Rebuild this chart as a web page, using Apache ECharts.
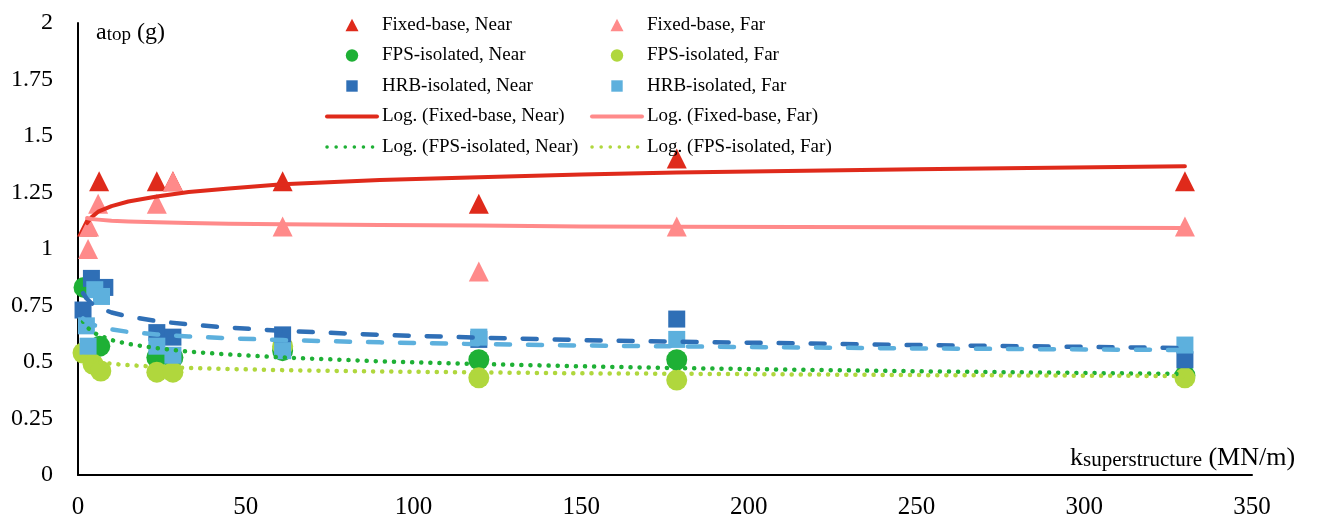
<!DOCTYPE html>
<html><head><meta charset="utf-8">
<script src="https://cdn.jsdelivr.net/npm/echarts@6/dist/echarts.min.js"></script>
<style>html,body{margin:0;padding:0;background:#fff}#c{width:1319px;height:524px}</style>
</head><body><div id="c"></div>
<script>
// ---- data ----
const fixedNearX = [2.7, 6.3, 23.5, 28.3, 61, 119.5, 178.5, 330];
const fixedNearY = [1.1, 1.3, 1.3, 1.3, 1.3, 1.2, 1.4, 1.3];
const fixedFarX  = [3.0, 3.3, 6.0, 23.5, 28.3, 61, 119.5, 178.5, 330];
const fixedFarY  = [1.0, 1.1, 1.2, 1.2, 1.3, 1.1, 0.9, 1.1, 1.1];
const fpsNearX   = [1.8, 6.5, 23.5, 28.3, 61, 119.5, 178.5, 330];
const fpsNearY   = [0.83, 0.57, 0.52, 0.52, 0.55, 0.51, 0.51, 0.44];
const fpsFarX    = [1.5, 4.5, 6.8, 23.5, 28.3, 61, 119.5, 178.5, 330];
const fpsFarY    = [0.54, 0.49, 0.46, 0.455, 0.455, 0.57, 0.43, 0.42, 0.43];
const hrbNearX   = [1.5, 4.0, 8.0, 23.5, 28.3, 61, 119.5, 178.5, 330];
const hrbNearY   = [0.73, 0.87, 0.83, 0.63, 0.61, 0.62, 0.6, 0.69, 0.51];
const hrbFarX    = [2.5, 3.0, 5.0, 7.0, 23.5, 28.3, 61, 119.5, 178.5, 330];
const hrbFarY    = [0.66, 0.57, 0.82, 0.79, 0.57, 0.53, 0.55, 0.61, 0.6, 0.575];

// trend lines, points
const trendFixedX     = [2.7, 4, 6, 10, 15, 23.5, 33, 45, 61, 90, 119.5, 150, 178.5, 250, 330];
const trendFixedNearY = [1.115, 1.14, 1.165, 1.19, 1.21, 1.232, 1.252, 1.268, 1.287, 1.305, 1.318, 1.33, 1.338, 1.353, 1.366];
const trendFixedFarY  = [1.137, 1.133, 1.13, 1.125, 1.122, 1.118, 1.115, 1.112, 1.11, 1.106, 1.104, 1.1, 1.099, 1.096, 1.093];
const trendIsoX       = [1.5, 2.5, 4, 6, 10, 15, 23.5, 33, 45, 61, 90, 119.5, 150, 178.5, 250, 330];
const trendFpsNearY   = [0.679, 0.657, 0.637, 0.619, 0.597, 0.58, 0.561, 0.546, 0.533, 0.52, 0.503, 0.491, 0.481, 0.473, 0.459, 0.447];
const trendFpsFarY    = [0.522, 0.514, 0.506, 0.5, 0.492, 0.486, 0.479, 0.474, 0.469, 0.464, 0.458, 0.454, 0.45, 0.448, 0.442, 0.438];
const trendHrbNearY   = [0.805, 0.782, 0.76, 0.742, 0.719, 0.701, 0.681, 0.666, 0.652, 0.638, 0.62, 0.608, 0.597, 0.59, 0.575, 0.562];
const trendHrbFarY    = [0.693, 0.68, 0.668, 0.657, 0.644, 0.633, 0.622, 0.613, 0.605, 0.597, 0.587, 0.579, 0.573, 0.569, 0.56, 0.553];

const xTicks = { min: 0, max: 350, interval: 50 };
const yTicks = { min: 0, max: 2, interval: 0.25 };

const C = {
  fixedNear: '#DF2A1B', fixedFar: '#FF8A8A',
  fpsNear: '#1EB035', fpsFar: '#B0D73D',
  hrbNear: '#2F6FB6', hrbFar: '#5DB0DD'
};
const FONT = 'Liberation Serif';
const pairs = (xs, ys) => xs.map((x, i) => [x, ys[i]]);

// legend icons laid out inside a 50x13 box (corner moves keep the box size)
const ICON_TRI  = 'path://M0,0M50,13M18.5,12.8L25,0.2L31.5,12.8Z';
const ICON_CIR  = 'path://M0,0M50,13M18.8,6.5A6.2,6.2 0 1 1 31.2,6.5A6.2,6.2 0 1 1 18.8,6.5Z';
const ICON_RECT = 'path://M0,0M50,13M19.3,0.8L30.7,0.8L30.7,12.2L19.3,12.2Z';

function scatter(name, xs, ys, symbol, size, color) {
  return { name, type: 'scatter', data: pairs(xs, ys), symbol, symbolSize: size,
    itemStyle: { color, opacity: 1 }, z: 2, silent: true };
}
function trend(name, xs, ys, color, type, width) {
  return { name, type: 'line', data: pairs(xs, ys), symbol: 'none', smooth: false,
    lineStyle: { color, width, type, cap: 'round', join: 'round' }, itemStyle: { color }, z: 3, silent: true };
}
const lineItem = (name, width) => ({ name, itemStyle: { opacity: 0 }, lineStyle: { width } });
const markItem = (name, icon) => ({ name, icon });

const chart = echarts.init(document.getElementById('c'), null, { renderer: 'canvas' });
const legendCommon = {
  orient: 'vertical', itemWidth: 50, itemHeight: 13, itemGap: 11.5, selectedMode: false,
  textStyle: { fontFamily: FONT, fontSize: 19, lineHeight: 19, color: '#000' }, top: 10.5
};
chart.setOption({
  animation: false,
  backgroundColor: '#fff',
  grid: { left: 78, right: 67, top: 23, bottom: 49 },
  legend: [
    Object.assign({ left: 320, data: [markItem('Fixed-base, Near', ICON_TRI), markItem('FPS-isolated, Near', ICON_CIR),
      markItem('HRB-isolated, Near', ICON_RECT),
      lineItem('Log. (Fixed-base, Near)', 4), lineItem('Log. (FPS-isolated, Near)', 3.5)] }, legendCommon),
    Object.assign({ left: 585, data: [markItem('Fixed-base, Far', ICON_TRI), markItem('FPS-isolated, Far', ICON_CIR),
      markItem('HRB-isolated, Far', ICON_RECT),
      lineItem('Log. (Fixed-base, Far)', 4), lineItem('Log. (FPS-isolated, Far)', 3.5)] }, legendCommon)
  ],
  xAxis: {
    type: 'value', min: xTicks.min, max: xTicks.max, interval: xTicks.interval,
    name: 'k{s|superstructure} (MN/m)', nameLocation: 'end', nameGap: -182,
    nameTextStyle: { align: 'left', verticalAlign: 'bottom', padding: [0, 0, 4, 0], fontFamily: FONT, fontSize: 26, color: '#000',
      rich: { s: { fontFamily: FONT, fontSize: 21, color: '#000', verticalAlign: 'bottom', lineHeight: 12 } } },
    axisLine: { lineStyle: { color: '#000', width: 2 } },
    axisTick: { show: false }, splitLine: { show: false },
    axisLabel: { fontFamily: FONT, fontSize: 25, color: '#000', margin: 20 }
  },
  yAxis: {
    type: 'value', min: yTicks.min, max: yTicks.max, interval: yTicks.interval,
    name: 'a{s|top} (g)', nameLocation: 'end', nameGap: -10,
    nameTextStyle: { align: 'left', verticalAlign: 'middle', padding: [0, 0, 0, 18], fontFamily: FONT, fontSize: 24, color: '#000',
      rich: { s: { fontFamily: FONT, fontSize: 19, color: '#000', verticalAlign: 'bottom', lineHeight: 10 } } },
    axisLine: { lineStyle: { color: '#000', width: 2 } },
    axisTick: { show: false }, splitLine: { show: false },
    axisLabel: { fontFamily: FONT, fontSize: 24, color: '#000', margin: 25 }
  },
  series: [
    scatter('Fixed-base, Near', fixedNearX, fixedNearY, 'triangle', 20, C.fixedNear),
    scatter('Fixed-base, Far', fixedFarX, fixedFarY, 'triangle', 20, C.fixedFar),
    scatter('FPS-isolated, Near', fpsNearX, fpsNearY, 'circle', 21, C.fpsNear),
    scatter('FPS-isolated, Far', fpsFarX, fpsFarY, 'circle', 21, C.fpsFar),
    scatter('HRB-isolated, Near', hrbNearX, hrbNearY, 'rect', 17, C.hrbNear),
    scatter('HRB-isolated, Far', hrbFarX, hrbFarY, 'rect', 17, C.hrbFar),
    trend('Log. (Fixed-base, Near)', trendFixedX, trendFixedNearY, C.fixedNear, 'solid', 4),
    trend('Log. (Fixed-base, Far)', trendFixedX, trendFixedFarY, C.fixedFar, 'solid', 4),
    trend('Log. (FPS-isolated, Near)', trendIsoX, trendFpsNearY, C.fpsNear, [0.1, 9], 4.5),
    trend('Log. (FPS-isolated, Far)', trendIsoX, trendFpsFarY, C.fpsFar, [0.1, 9], 4.5),
    trend('Log. (HRB-isolated, Near)', trendIsoX, trendHrbNearY, C.hrbNear, [14, 18], 4.5),
    trend('Log. (HRB-isolated, Far)', trendIsoX, trendHrbFarY, C.hrbFar, [14, 18], 4.5)
  ]
});
</script>
</body></html>
